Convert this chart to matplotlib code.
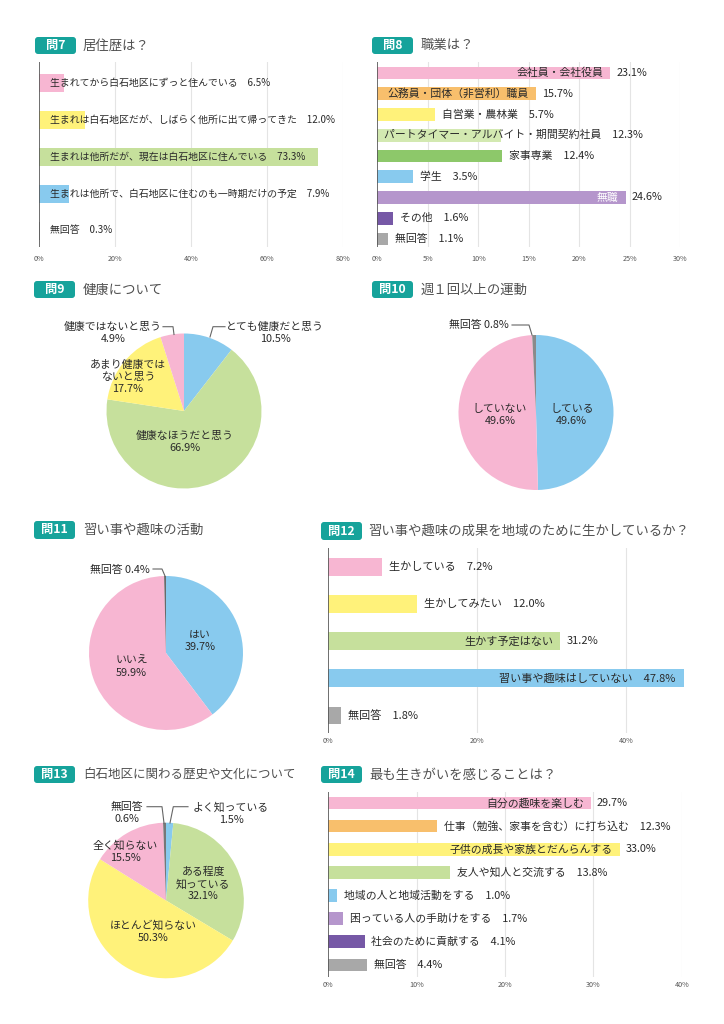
import matplotlib
matplotlib.use('Agg')
import matplotlib.pyplot as plt
from matplotlib.patches import FancyBboxPatch
from matplotlib.lines import Line2D
from matplotlib.transforms import IdentityTransform

W, H = 724, 1024
plt.rcParams['font.family'] = ['Noto Sans CJK JP', 'DejaVu Sans']

# ---------------- data ----------------
q7_labels = ['生まれてから白石地区にずっと住んでいる',
             '生まれは白石地区だが、しばらく他所に出て帰ってきた',
             '生まれは他所だが、現在は白石地区に住んでいる',
             '生まれは他所で、白石地区に住むのも一時期だけの予定',
             '無回答']
q7_values = [6.5, 12.0, 73.3, 7.9, 0.3]
q7_ticks = [0, 20, 40, 60, 80]

q8_labels = ['会社員・会社役員', '公務員・団体（非営利）職員', '自営業・農林業',
             'パートタイマー・アルバイト・期間契約社員', '家事専業', '学生',
             '無職', 'その他', '無回答']
q8_values = [23.1, 15.7, 5.7, 12.3, 12.4, 3.5, 24.6, 1.6, 1.1]
q8_ticks = [0, 5, 10, 15, 20, 25, 30]

q9_labels = ['とても健康だと思う', '健康なほうだと思う', 'あまり健康では\nないと思う', '健康ではないと思う']
q9_values = [10.5, 66.9, 17.7, 4.9]

q10_labels = ['している', 'していない', '無回答']
q10_values = [49.6, 49.6, 0.8]

q11_labels = ['はい', 'いいえ', '無回答']
q11_values = [39.7, 59.9, 0.4]

q12_labels = ['生かしている', '生かしてみたい', '生かす予定はない', '習い事や趣味はしていない', '無回答']
q12_values = [7.2, 12.0, 31.2, 47.8, 1.8]
q12_ticks = [0, 20, 40]

q13_labels = ['よく知っている', 'ある程度\n知っている', 'ほとんど知らない', '全く知らない', '無回答']
q13_values = [1.5, 32.1, 50.3, 15.5, 0.6]

q14_labels = ['自分の趣味を楽しむ', '仕事（勉強、家事を含む）に打ち込む', '子供の成長や家族とだんらんする',
              '友人や知人と交流する', '地域の人と地域活動をする', '困っている人の手助けをする',
              '社会のために貢献する', '無回答']
q14_values = [29.7, 12.3, 33.0, 13.8, 1.0, 1.7, 4.1, 4.4]
q14_ticks = [0, 10, 20, 30, 40]

titles = ['居住歴は？', '職業は？', '健康について', '週１回以上の運動', '習い事や趣味の活動',
          '習い事や趣味の成果を地域のために生かしているか？', '白石地区に関わる歴史や文化について',
          '最も生きがいを感じることは？']
badges = ['問7', '問8', '問9', '問10', '問11', '問12', '問13', '問14']

# ---------------- colours ----------------
PINK = '#F7B6D2'
YEL = '#FFF27A'
GRN = '#C6E09C'
BLU = '#88CAEE'
GRY = '#A8A8A8'
ORG = '#F8BF6C'
LGRN = '#D3E9B1'
DGRN = '#8DC86A'
LPUR = '#B596CC'
DPUR = '#7658A6'
TEAL = '#16A39B'
TXT = '#2a2a2a'
WT = 'normal'

fig = plt.figure(figsize=(W / 100, H / 100), dpi=100)
fig.patch.set_facecolor('white')


def fx(x):
    return x / W


def fy(y):
    return 1 - y / H


def axes_px(x0, x1, y0, y1):
    return fig.add_axes([fx(x0), fy(y1), (x1 - x0) / W, (y1 - y0) / H])


def header(x0, y0, y1, badge, title, title_x, bw=41, tfs=9.6):
    p = FancyBboxPatch((x0, H - y1), bw, y1 - y0,
                       boxstyle='round,pad=0,rounding_size=3',
                       transform=IdentityTransform(), fc=TEAL, ec='none')
    fig.add_artist(p)
    fig.text(fx(x0 + bw / 2), fy((y0 + y1) / 2), badge, color='white', fontsize=8.8,
             fontweight='bold', ha='center', va='center')
    fig.text(fx(title_x), fy((y0 + y1) / 2), title, color='#505050', fontsize=tfs,
             ha='left', va='center')


def bar_panel(rect, xmax, ticks, labels, values, colors, modes, first_c, spacing, bar_h,
              fs, tickpad=4, lead=5, white=()):
    x0, x1, yt, yb = rect
    ax = axes_px(x0, x1, yt, yb)
    pos = list(range(len(values)))
    ax.barh(pos, values, height=bar_h / spacing, color=colors, zorder=2)
    ax.set_xlim(0, xmax)
    ax.set_ylim((yb - first_c) / spacing, -(first_c - yt) / spacing)
    ax.set_xticks(ticks)
    ax.set_xticklabels([f'{t}%' for t in ticks])
    ax.tick_params(axis='x', length=0, labelsize=5.2, colors='#555555', pad=tickpad)
    ax.set_yticks([])
    for s in ax.spines.values():
        s.set_visible(False)
    for t in ticks[1:]:
        ax.axvline(t, color='#e4e4e4', lw=0.8, zorder=0)
    ax.axvline(0, color='#555555', lw=1.2, zorder=3)
    for i, (lab, v, m) in enumerate(zip(labels, values, modes)):
        vs = f'{v:.1f}%'
        kw = dict(textcoords='offset points', va='center', fontsize=fs, color=TXT,
                  fontweight=WT, zorder=4)
        if m == 'out':
            ax.annotate(f'{lab}　{vs}', xy=(v, i), xytext=(5, 0), ha='left', **kw)
        elif m == 'left':
            ax.annotate(f'{lab}　{vs}', xy=(0, i), xytext=(lead, 0), ha='left', **kw)
        elif m == 'in':
            c = 'white' if i in white else TXT
            kw2 = dict(kw)
            kw2['color'] = c
            ax.annotate(lab, xy=(v, i), xytext=(-5, 0), ha='right', **kw2)
            ax.annotate(vs, xy=(v, i), xytext=(4.5, 0), ha='left', **kw)
        elif m == 'inall':
            ax.annotate(f'{lab}　{vs}', xy=(v, i), xytext=(-6, 0), ha='right', **kw)
    return ax


def pie_panel(cx, cy, R, values, colors):
    k = 1.03
    ax = axes_px(cx - R * k, cx + R * k, cy - R * k, cy + R * k)
    ax.pie(values, colors=colors, startangle=90, counterclock=False, radius=1,
           wedgeprops=dict(linewidth=0))
    ax.set_xlim(-k, k)
    ax.set_ylim(-k, k)
    ax.set_aspect('equal')
    ax.axis('off')
    return ax


def ptext(x, y, s, ha='center', fs=7.8):
    fig.text(fx(x), fy(y), s, ha=ha, va='center', fontsize=fs, color=TXT,
             fontweight=WT, linespacing=1.25, multialignment='center')


def leader(xs, ys):
    fig.add_artist(Line2D([fx(x) for x in xs], [fy(y) for y in ys],
                          transform=fig.transFigure, color='#666666', lw=0.8))


# ---------------- headers ----------------
header(35, 37, 54, badges[0], titles[0], 83)
header(372, 37, 54, badges[1], titles[1], 421)
header(34, 281, 298, badges[2], titles[2], 83)
header(372, 281, 298, badges[3], titles[3], 421)
header(34, 521, 539, badges[4], titles[4], 83)
header(321, 522, 540, badges[5], titles[5], 368)
header(34, 766, 783, badges[6], titles[6], 83, tfs=9.0)
header(321, 766, 783, badges[7], titles[7], 369)

# ---------------- Q7 ----------------
bar_panel((39.3, 343.3, 62, 247), 80, q7_ticks, q7_labels, q7_values,
          [PINK, YEL, GRN, BLU, GRY], ['left'] * 5, 83.3, 36.8, 18, 7.1,
          tickpad=6, lead=7.5)

# ---------------- Q8 ----------------
bar_panel((377.3, 680, 62, 247), 30, q8_ticks, q8_labels, q8_values,
          [PINK, ORG, YEL, LGRN, DGRN, BLU, LPUR, DPUR, GRY],
          ['in', 'in', 'out', 'left', 'out', 'out', 'in', 'out', 'out'],
          73, 20.75, 12.7, 7.8, tickpad=6, lead=4.5, white=(6,))

# ---------------- Q12 ----------------
bar_panel((328, 690, 548, 733), 48.6, q12_ticks, q12_labels, q12_values,
          [PINK, YEL, GRN, BLU, GRY], ['out', 'out', 'in', 'inall', 'out'],
          567, 37.1, 17.7, 8, tickpad=3)

# ---------------- Q14 ----------------
bar_panel((328.3, 681.7, 792, 977), 40, q14_ticks, q14_labels, q14_values,
          [PINK, ORG, YEL, GRN, BLU, LPUR, DPUR, GRY],
          ['in', 'out', 'in', 'out', 'out', 'out', 'out', 'out'],
          803, 23.14, 12.7, 7.8, tickpad=3)

# ---------------- Q9 pie ----------------
pie_panel(184, 411, 77.5, q9_values, [BLU, GRN, YEL, PINK])
ptext(275, 333, f'{q9_labels[0]}\n{q9_values[0]:.1f}%')
ptext(185, 441.5, f'{q9_labels[1]}\n{q9_values[1]:.1f}%')
ptext(128, 377, f'{q9_labels[2]}\n{q9_values[2]:.1f}%')
ptext(113, 333, f'{q9_labels[3]}\n{q9_values[3]:.1f}%')
leader([163, 173, 174], [326.7, 326.7, 334.5])
leader([210, 213, 225], [337, 326.7, 326.7])

# ---------------- Q10 pie ----------------
pie_panel(536, 412.5, 77.5, q10_values, [BLU, PINK, '#8a8a8a'])
ptext(571.7, 414.5, f'{q10_labels[0]}\n{q10_values[0]:.1f}%')
ptext(500, 415, f'{q10_labels[1]}\n{q10_values[1]:.1f}%')
ptext(478.5, 325, f'{q10_labels[2]} {q10_values[2]:.1f}%')
leader([512, 529, 532], [325, 325, 335])

# ---------------- Q11 pie ----------------
pie_panel(166, 653, 77, q11_values, [BLU, PINK, '#6a6a6a'])
ptext(200, 641, f'{q11_labels[0]}\n{q11_values[0]:.1f}%')
ptext(131.7, 666.7, f'{q11_labels[1]}\n{q11_values[1]:.1f}%')
ptext(120, 570, f'{q11_labels[2]} {q11_values[2]:.1f}%')
leader([153, 162, 165], [569, 569, 576])

# ---------------- Q13 pie ----------------
pie_panel(166, 900.5, 77.8, q13_values, [BLU, GRN, YEL, PINK, '#777777'])
ptext(231, 813.3, f'{q13_labels[0]}\n{q13_values[0]:.1f}%')
ptext(203.3, 884, f'{q13_labels[1]}\n{q13_values[1]:.1f}%')
ptext(153.3, 931.7, f'{q13_labels[2]}\n{q13_values[2]:.1f}%')
ptext(125, 851.7, f'{q13_labels[3]}\n{q13_values[3]:.1f}%')
ptext(126.7, 813.3, f'{q13_labels[4]}\n{q13_values[4]:.1f}%')
leader([147, 162, 164], [806.7, 806.7, 823])
leader([170, 173.3, 188], [823, 806.7, 806.7])

fig.savefig('out.png', dpi=100)
